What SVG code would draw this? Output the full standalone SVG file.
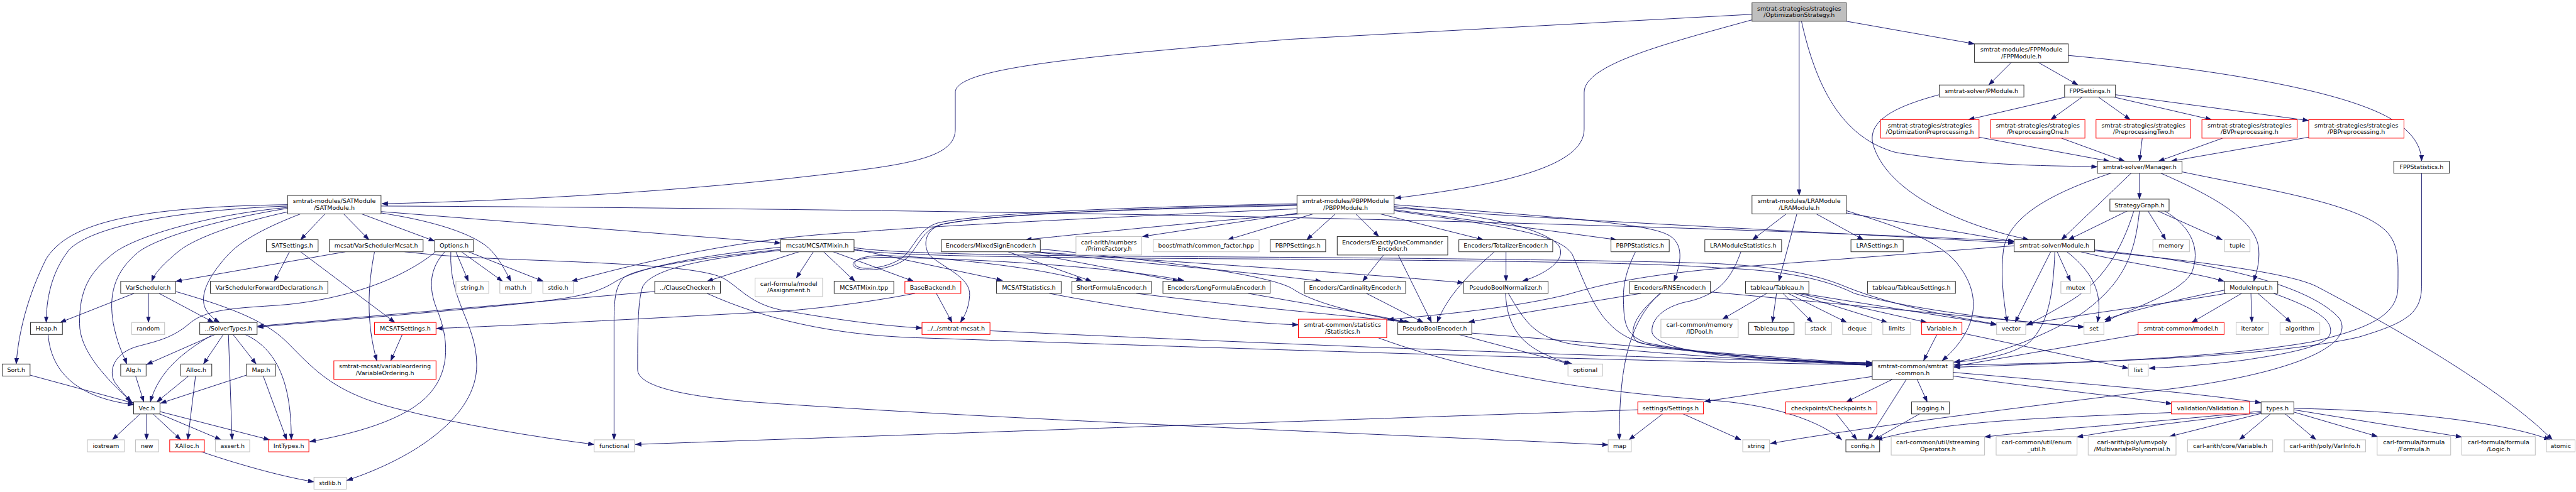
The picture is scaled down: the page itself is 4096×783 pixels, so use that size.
<svg xmlns="http://www.w3.org/2000/svg" width="4096" height="783" viewBox="0 0 4096 783">
<style>
.e path{fill:none;stroke:#191970;stroke-width:1.3;marker-end:url(#ah)}
.n rect{fill:#fff;stroke:#333;stroke-width:1.4}
.n.g rect{stroke:#bfbfbf}
.n.r rect{stroke:#f00}
.n.t rect{fill:#bfbfbf;stroke:#404040}
.n text{font-family:"DejaVu Sans",sans-serif;font-size:13px;text-anchor:middle;fill:#000}
</style>
<defs>
<marker id="ah" viewBox="0 0 14 10" refX="13" refY="5" markerWidth="14" markerHeight="10" markerUnits="userSpaceOnUse" orient="auto"><path d="M0,0 L14,5 L0,10 z" fill="#191970"/></marker>
</defs>
<rect width="4096" height="783" fill="#fff"/>
<g transform="scale(0.73523)">
<g id="edges" class="e">
<path d="M3789,31 L2790,85 C2300,125 2066,150 2066,200 L2066,280 C2066,330 2000,350 1860,368 C1500,415 1100,435 826,441"/>
<path d="M3789,43 C3600,95 3426,140 3426,200 L3426,280 C3426,360 3250,400 3017,429"/>
<path d="M3891,46 L3891,423"/>
<path d="M3896,46 C3930,200 3990,300 4100,330 C4300,362 4450,358 4536,361"/>
<path d="M3993,46 L4270,95"/>
<path d="M4350,135 L4301,184"/>
<path d="M4408,135 L4494,184"/>
<path d="M4473,120 C4800,150 5100,200 5190,270 C5230,300 5237,330 5237,349"/>
<path d="M4468,210 L4257,259"/>
<path d="M4503,210 L4435,259"/>
<path d="M4538,210 L4607,259"/>
<path d="M4571,210 L4783,259"/>
<path d="M4575,205 L4993,261"/>
<path d="M4280,297 L4562,349"/>
<path d="M4458,299 L4595,349"/>
<path d="M4633,299 L4627,349"/>
<path d="M4807,299 L4668,349"/>
<path d="M4993,297 L4695,349"/>
<path d="M4194,205 C4100,230 4040,260 4050,310 C4080,420 4250,490 4388,519"/>
<path d="M4627,374 L4627,431"/>
<path d="M4610,374 L4458,519"/>
<path d="M4568,374 C4430,420 4345,470 4333,540 C4325,600 4335,660 4341,698"/>
<path d="M4671,374 C4800,430 4880,480 4885,540 C4887,570 4880,590 4874,609"/>
<path d="M4719,372 C4900,410 5100,440 5160,500 C5190,530 5186,570 5186,620 C5186,680 5130,710 5000,740 C4800,775 4500,785 4226,795"/>
<path d="M5237,374 L5237,620 C5237,680 5200,700 5100,730 C4900,775 4500,786 4226,790"/>
<path d="M4602,456 L4473,519"/>
<path d="M4645,456 L4684,519"/>
<path d="M4665,456 L4806,519"/>
<path d="M4615,456 C4595,520 4560,600 4480,650 C4430,680 4400,695 4383,704"/>
<path d="M4627,456 C4618,540 4600,610 4500,680 C4400,740 4300,770 4226,784"/>
<path d="M4680,456 C4740,490 4760,540 4740,590 C4710,640 4600,670 4552,697"/>
<path d="M4435,545 L4358,698"/>
<path d="M4444,545 C4440,640 4430,700 4390,740 C4350,770 4280,780 4226,784"/>
<path d="M4449,545 L4478,609"/>
<path d="M4470,545 C4540,600 4545,650 4536,698"/>
<path d="M4356,532 L3720,581 C3500,600 3420,630 3380,640 C3250,670 3100,682 3001,692"/>
<path d="M4500,545 C4600,570 4750,590 4810,609"/>
<path d="M4530,543 C4750,565 4950,590 5010,620 C5200,720 5420,850 5520,952"/>
<path d="M4530,541 C4800,568 5000,620 5060,690 C5100,760 4900,820 4650,847 C4300,890 4000,930 3829,960"/>
<path d="M4848,635 L4740,698"/>
<path d="M4868,635 L4870,698"/>
<path d="M4883,635 L4955,698"/>
<path d="M4917,635 C5000,665 5045,690 5040,720 C5035,750 4950,765 4850,780 C4770,790 4700,795 4648,797"/>
<path d="M4811,628 C4700,650 4600,675 4552,692"/>
<path d="M4815,635 C4700,655 4500,680 4383,702"/>
<path d="M4624,724 L4226,793"/>
<path d="M4189,724 L4160,781"/>
<path d="M4243,721 L4603,797"/>
<path d="M4093,821 L3993,870"/>
<path d="M4123,821 L4040,952"/>
<path d="M4146,821 L4168,870"/>
<path d="M4224,806 C4500,830 4750,850 4890,872"/>
<path d="M4224,814 C4450,845 4620,862 4697,874"/>
<path d="M4049,815 L3686,869"/>
<path d="M3971,895 L4016,952"/>
<path d="M4153,895 L4052,952"/>
<path d="M4696,893 C4400,905 4200,912 4058,952"/>
<path d="M4890,890 C4650,915 4420,930 4292,946"/>
<path d="M4890,893 C4700,915 4580,930 4492,946"/>
<path d="M4890,895 L4692,945"/>
<path d="M4911,895 L4843,952"/>
<path d="M4941,895 L5009,952"/>
<path d="M4961,892 L5142,945"/>
<path d="M4961,887 L5324,946"/>
<path d="M4961,884 C5200,888 5420,915 5515,952"/>
<path d="M3597,895 L3523,952"/>
<path d="M3638,895 L3765,952"/>
<path d="M3542,887 C3000,905 2000,940 1374,962"/>
<path d="M2980,731 C3250,830 3550,855 3720,868 C3850,880 3940,915 3983,952"/>
<path d="M3155,724 L3396,788"/>
<path d="M3183,721 C3600,755 3900,778 4049,788"/>
<path d="M3256,635 C3260,720 3300,760 3400,788"/>
<path d="M3262,635 C3300,700 3320,730 3400,745 C3600,770 3900,784 4049,791"/>
<path d="M3549,635 L3176,697"/>
<path d="M3590,635 C3520,700 3502,800 3502,952"/>
<path d="M3592,635 C3535,680 3520,720 3540,740 C3600,760 3850,780 4049,789"/>
<path d="M3699,632 C3900,650 4200,680 4507,708"/>
<path d="M3537,545 C3515,590 3510,620 3511,650 C3512,700 3515,725 3560,742 C3700,770 3900,782 4049,786"/>
<path d="M3765,545 C3745,600 3720,640 3640,655 C3585,670 3570,700 3573,720 C3580,745 3650,760 3720,769 C3850,780 3950,786 4049,788"/>
<path d="M3842,635 L3833,698"/>
<path d="M3856,635 L3920,698"/>
<path d="M3867,635 L3994,698"/>
<path d="M3880,635 L4082,698"/>
<path d="M3889,635 L4167,698"/>
<path d="M3895,635 L4318,703"/>
<path d="M3821,635 L3725,691"/>
<path d="M3863,463 L3790,519"/>
<path d="M3928,463 L4030,519"/>
<path d="M3886,463 L3847,609"/>
<path d="M3993,461 L4356,523"/>
<path d="M3993,456 C4100,490 4200,520 4240,580 C4290,650 4270,720 4200,781"/>
<path d="M2888,463 L2826,519"/>
<path d="M2932,463 L2982,512"/>
<path d="M2985,463 L3208,519"/>
<path d="M3015,454 L3496,519"/>
<path d="M3015,447 C3200,465 3330,490 3370,530 C3390,560 3350,590 3292,609"/>
<path d="M3015,443 C3300,465 3540,480 3600,505 C3640,520 3640,560 3620,609"/>
<path d="M3015,456 C3250,490 3370,505 3400,550 C3440,640 3460,720 3560,745 C3750,775 3950,785 4049,790"/>
<path d="M3015,450 C3400,478 3900,500 4356,526"/>
<path d="M2812,463 C2600,480 2400,500 2218,519"/>
<path d="M2808,461 L2471,512"/>
<path d="M2840,463 L2655,519"/>
<path d="M2805,452 C2400,470 2000,490 1860,502 C1650,512 1450,550 1236,609"/>
<path d="M2805,443 C2500,450 2150,462 2040,485 C2000,495 1995,530 2010,552 C2040,580 2100,600 2097,640 C2095,670 2085,685 2077,698"/>
<path d="M2805,441 C2500,447 2150,458 2030,482 C1990,493 1980,530 1955,555 C1925,580 1862,588 1850,574 C1842,562 1870,553 1910,553 C2060,558 2250,580 2341,607"/>
<path d="M2805,445 C2500,451 2150,462 2035,486 C1995,497 1987,533 1962,558 C1932,584 1858,592 1846,576 C1838,562 1872,557 1915,557 C2200,562 2450,585 2560,607"/>
<path d="M622,443 C300,448 150,480 100,560 C60,640 40,720 35,788"/>
<path d="M622,446 C380,455 200,490 150,540 C110,590 100,650 100,698"/>
<path d="M622,449 C450,465 300,510 250,545 C190,590 172,630 172,700 C172,760 230,820 285,870"/>
<path d="M622,451 C470,475 340,515 300,545 C245,590 235,640 245,700 C255,750 268,770 274,788"/>
<path d="M630,457 C520,480 420,515 385,545 C355,570 335,590 328,609"/>
<path d="M650,463 C580,490 520,520 490,555 C450,600 430,640 445,670 C455,685 465,692 475,698"/>
<path d="M703,463 L650,519"/>
<path d="M743,463 L798,519"/>
<path d="M782,463 L940,522"/>
<path d="M824,458 L1688,526"/>
<path d="M824,461 C950,480 1030,510 1060,540 C1080,560 1095,590 1105,609"/>
<path d="M824,446 C1400,448 2300,460 2790,471 C3300,482 3900,500 4356,522"/>
<path d="M747,545 L380,609"/>
<path d="M810,545 C795,620 792,700 815,781"/>
<path d="M875,545 C950,553 1000,557 1100,561 C1300,569 1500,575 1560,600 C1600,620 1620,660 1700,673 C1800,690 1900,705 1994,710"/>
<path d="M626,545 L593,609"/>
<path d="M650,545 L854,698"/>
<path d="M870,724 L845,781"/>
<path d="M986,545 L1013,609"/>
<path d="M998,545 L1087,609"/>
<path d="M1013,545 L1175,609"/>
<path d="M942,545 C900,580 800,640 623,659 C530,667 450,665 410,700 C370,735 330,740 290,752 C240,770 235,810 250,830 C265,850 275,860 283,870"/>
<path d="M962,545 C930,580 925,620 945,670 C970,730 975,800 930,851 C880,910 760,940 670,956"/>
<path d="M975,545 C970,650 1031,700 1031,790 C1031,900 900,990 750,1040"/>
<path d="M290,635 L130,698"/>
<path d="M321,635 L321,698"/>
<path d="M344,635 L462,698"/>
<path d="M380,631 C480,660 570,690 620,740 C680,800 720,850 860,885 C1000,920 1150,945 1285,962"/>
<path d="M465,724 L317,789"/>
<path d="M457,726 C400,760 345,800 325,870"/>
<path d="M483,724 L440,788"/>
<path d="M494,724 L502,952"/>
<path d="M504,724 L554,788"/>
<path d="M530,724 C610,760 630,850 630,952"/>
<path d="M104,724 C110,800 160,860 289,876"/>
<path d="M65,812 L290,873"/>
<path d="M293,813 L311,870"/>
<path d="M409,813 L339,870"/>
<path d="M423,813 L406,952"/>
<path d="M533,812 L347,873"/>
<path d="M569,813 L620,952"/>
<path d="M304,895 L243,952"/>
<path d="M317,895 L317,952"/>
<path d="M330,895 L391,952"/>
<path d="M343,895 L478,952"/>
<path d="M346,891 L583,952"/>
<path d="M433,977 C500,1000 600,1030 679,1043"/>
<path d="M1416,631 L557,706"/>
<path d="M1529,635 C1650,690 1800,725 1980,731 C2400,745 3400,780 4049,790"/>
<path d="M1728,545 L1529,609"/>
<path d="M1759,545 L1722,602"/>
<path d="M1781,545 L1849,609"/>
<path d="M1802,545 L1976,609"/>
<path d="M1847,539 L2168,607"/>
<path d="M1688,535 C1500,555 1380,580 1330,610 C1290,635 1250,645 1100,660 C900,680 700,695 557,708"/>
<path d="M1688,540 C1500,560 1380,580 1350,600 C1330,620 1328,650 1328,700 L1328,952"/>
<path d="M1688,542 C1500,562 1410,585 1390,620 C1380,650 1379,700 1379,800 C1379,840 1500,860 1640,871 C2200,910 3000,940 3478,963"/>
<path d="M1847,536 C1950,552 2300,554 2790,557 C3300,561 3600,566 3720,571 C3850,578 3930,595 3990,620 C4100,665 4250,690 4318,702"/>
<path d="M1847,541 C1950,556 2300,558 2790,561 C3300,565 3600,570 3720,580 C3860,585 3950,605 4010,635 C4150,675 4400,700 4507,708"/>
<path d="M2025,635 L2059,698"/>
<path d="M1979,635 C1900,650 1800,665 1700,673 C1300,695 1100,705 944,711"/>
<path d="M2141,716 C2700,742 3500,775 4049,785"/>
<path d="M2180,545 L2361,609"/>
<path d="M2212,545 L2549,609"/>
<path d="M2232,545 C2450,568 2700,588 2858,609"/>
<path d="M2250,539 C2550,568 2760,598 2800,628 C2850,660 2950,680 3040,698"/>
<path d="M2240,545 C2500,565 2900,588 3165,612"/>
<path d="M2457,635 C2700,665 2900,682 3050,698"/>
<path d="M2699,635 L2790,651 C2900,670 2990,685 3040,697"/>
<path d="M2269,635 C2500,680 2700,700 2808,703"/>
<path d="M2992,552 L2947,609"/>
<path d="M3024,552 L3096,698"/>
<path d="M3232,545 C3180,590 3130,640 3108,698"/>
<path d="M3257,545 L3257,609"/>
<path d="M2955,635 L3078,698"/>
</g>
<g id="nodes">
<g id="opt" class="n t"><rect x="3789" y="6" width="204" height="40"/><text x="3891" y="22.5">smtrat-strategies/strategies</text><text x="3891" y="37">/OptimizationStrategy.h</text></g>
<g id="fppmod" class="n"><rect x="4270" y="95" width="203" height="40"/><text x="4371.5" y="111.5">smtrat-modules/FPPModule</text><text x="4371.5" y="126">/FPPModule.h</text></g>
<g id="pmodule" class="n"><rect x="4194" y="184" width="183" height="26"/><text x="4285.5" y="201.5">smtrat-solver/PModule.h</text></g>
<g id="fppset" class="n"><rect x="4465" y="184" width="110" height="26"/><text x="4520" y="201.5">FPPSettings.h</text></g>
<g id="optprep" class="n r"><rect x="4067" y="259" width="213" height="40"/><text x="4173.5" y="275.5">smtrat-strategies/strategies</text><text x="4173.5" y="290">/OptimizationPreprocessing.h</text></g>
<g id="prepone" class="n r"><rect x="4305" y="259" width="204" height="40"/><text x="4407" y="275.5">smtrat-strategies/strategies</text><text x="4407" y="290">/PreprocessingOne.h</text></g>
<g id="preptwo" class="n r"><rect x="4533" y="259" width="205" height="40"/><text x="4635.5" y="275.5">smtrat-strategies/strategies</text><text x="4635.5" y="290">/PreprocessingTwo.h</text></g>
<g id="bvprep" class="n r"><rect x="4762" y="259" width="206" height="40"/><text x="4865" y="275.5">smtrat-strategies/strategies</text><text x="4865" y="290">/BVPreprocessing.h</text></g>
<g id="pbprep" class="n r"><rect x="4993" y="259" width="206" height="40"/><text x="5096" y="275.5">smtrat-strategies/strategies</text><text x="5096" y="290">/PBPreprocessing.h</text></g>
<g id="manager" class="n"><rect x="4536" y="349" width="183" height="26"/><text x="4627.5" y="366.5">smtrat-solver/Manager.h</text></g>
<g id="fppstat" class="n"><rect x="5177" y="349" width="120" height="26"/><text x="5237" y="366.5">FPPStatistics.h</text></g>
<g id="satmod" class="n"><rect x="622" y="423" width="202" height="40"/><text x="723" y="439.5">smtrat-modules/SATModule</text><text x="723" y="454">/SATModule.h</text></g>
<g id="pbppmod" class="n"><rect x="2805" y="423" width="210" height="40"/><text x="2910" y="439.5">smtrat-modules/PBPPModule</text><text x="2910" y="454">/PBPPModule.h</text></g>
<g id="lramod" class="n"><rect x="3789" y="423" width="204" height="40"/><text x="3891" y="439.5">smtrat-modules/LRAModule</text><text x="3891" y="454">/LRAModule.h</text></g>
<g id="strategygraph" class="n"><rect x="4563" y="431" width="128" height="26"/><text x="4627" y="448.5">StrategyGraph.h</text></g>
<g id="satset" class="n"><rect x="576" y="519" width="112" height="26"/><text x="632" y="536.5">SATSettings.h</text></g>
<g id="varschedmcsat" class="n"><rect x="712" y="519" width="203" height="26"/><text x="813.5" y="536.5">mcsat/VarSchedulerMcsat.h</text></g>
<g id="options" class="n"><rect x="940" y="519" width="84" height="26"/><text x="982" y="536.5">Options.h</text></g>
<g id="mcsatmixin" class="n"><rect x="1688" y="519" width="159" height="26"/><text x="1767.5" y="536.5">mcsat/MCSATMixin.h</text></g>
<g id="mixedsign" class="n"><rect x="2036" y="519" width="214" height="26"/><text x="2143" y="536.5">Encoders/MixedSignEncoder.h</text></g>
<g id="primefactory" class="n g"><rect x="2327" y="512" width="142" height="40"/><text x="2398" y="528.5">carl-arith/numbers</text><text x="2398" y="543">/PrimeFactory.h</text></g>
<g id="commonfactor" class="n g"><rect x="2494" y="519" width="229" height="26"/><text x="2608.5" y="536.5">boost/math/common_factor.hpp</text></g>
<g id="pbppset" class="n"><rect x="2747" y="519" width="120" height="26"/><text x="2807" y="536.5">PBPPSettings.h</text></g>
<g id="exactlyone" class="n"><rect x="2892" y="512" width="239" height="40"/><text x="3011.5" y="528.5">Encoders/ExactlyOneCommander</text><text x="3011.5" y="543">Encoder.h</text></g>
<g id="totalizer" class="n"><rect x="3155" y="519" width="203" height="26"/><text x="3256.5" y="536.5">Encoders/TotalizerEncoder.h</text></g>
<g id="pbppstat" class="n"><rect x="3484" y="519" width="126" height="26"/><text x="3547" y="536.5">PBPPStatistics.h</text></g>
<g id="lramodstat" class="n"><rect x="3687" y="519" width="166" height="26"/><text x="3770" y="536.5">LRAModuleStatistics.h</text></g>
<g id="lraset" class="n"><rect x="4003" y="519" width="113" height="26"/><text x="4059.5" y="536.5">LRASettings.h</text></g>
<g id="module" class="n"><rect x="4356" y="519" width="174" height="26"/><text x="4443" y="536.5">smtrat-solver/Module.h</text></g>
<g id="memory" class="n g"><rect x="4656" y="519" width="79" height="26"/><text x="4695.5" y="536.5">memory</text></g>
<g id="tuple" class="n g"><rect x="4811" y="519" width="55" height="26"/><text x="4838.5" y="536.5">tuple</text></g>
<g id="varsched" class="n"><rect x="261" y="609" width="119" height="26"/><text x="320.5" y="626.5">VarScheduler.h</text></g>
<g id="varschedfwd" class="n"><rect x="455" y="609" width="254" height="26"/><text x="582" y="626.5">VarSchedulerForwardDeclarations.h</text></g>
<g id="stringh" class="n g"><rect x="986" y="609" width="71" height="26"/><text x="1021.5" y="626.5">string.h</text></g>
<g id="mathh" class="n g"><rect x="1081" y="609" width="68" height="26"/><text x="1115" y="626.5">math.h</text></g>
<g id="stdioh" class="n g"><rect x="1174" y="609" width="66" height="26"/><text x="1207" y="626.5">stdio.h</text></g>
<g id="clausechecker" class="n"><rect x="1416" y="609" width="142" height="26"/><text x="1487" y="626.5">../ClauseChecker.h</text></g>
<g id="assignment" class="n g"><rect x="1633" y="602" width="146" height="40"/><text x="1706" y="618.5">carl-formula/model</text><text x="1706" y="633">/Assignment.h</text></g>
<g id="mcsatmixintpp" class="n"><rect x="1804" y="609" width="129" height="26"/><text x="1868.5" y="626.5">MCSATMixin.tpp</text></g>
<g id="basebackend" class="n r"><rect x="1957" y="609" width="121" height="26"/><text x="2017.5" y="626.5">BaseBackend.h</text></g>
<g id="mcsatstat" class="n"><rect x="2155" y="609" width="140" height="26"/><text x="2225" y="626.5">MCSATStatistics.h</text></g>
<g id="shortformula" class="n"><rect x="2318" y="609" width="172" height="26"/><text x="2404" y="626.5">ShortFormulaEncoder.h</text></g>
<g id="longformula" class="n"><rect x="2515" y="609" width="232" height="26"/><text x="2631" y="626.5">Encoders/LongFormulaEncoder.h</text></g>
<g id="cardinality" class="n"><rect x="2821" y="609" width="219" height="26"/><text x="2930.5" y="626.5">Encoders/CardinalityEncoder.h</text></g>
<g id="pbnormalizer" class="n"><rect x="3165" y="609" width="183" height="26"/><text x="3256.5" y="626.5">PseudoBoolNormalizer.h</text></g>
<g id="rns" class="n"><rect x="3524" y="609" width="175" height="26"/><text x="3611.5" y="626.5">Encoders/RNSEncoder.h</text></g>
<g id="tableau" class="n"><rect x="3775" y="609" width="137" height="26"/><text x="3843.5" y="626.5">tableau/Tableau.h</text></g>
<g id="tableauset" class="n"><rect x="4039" y="609" width="190" height="26"/><text x="4134" y="626.5">tableau/TableauSettings.h</text></g>
<g id="mutex" class="n g"><rect x="4457" y="609" width="64" height="26"/><text x="4489" y="626.5">mutex</text></g>
<g id="moduleinput" class="n"><rect x="4811" y="609" width="115" height="26"/><text x="4868.5" y="626.5">ModuleInput.h</text></g>
<g id="heap" class="n"><rect x="66" y="698" width="69" height="26"/><text x="100.5" y="715.5">Heap.h</text></g>
<g id="random" class="n g"><rect x="285" y="698" width="71" height="26"/><text x="320.5" y="715.5">random</text></g>
<g id="solvertypes" class="n"><rect x="432" y="698" width="124" height="26"/><text x="494" y="715.5">../SolverTypes.h</text></g>
<g id="mcsatsettings" class="n r"><rect x="810" y="698" width="133" height="26"/><text x="876.5" y="715.5">MCSATSettings.h</text></g>
<g id="smtratmcsat" class="n r"><rect x="1994" y="698" width="147" height="26"/><text x="2067.5" y="715.5">../../smtrat-mcsat.h</text></g>
<g id="statistics" class="n r"><rect x="2808" y="691" width="191" height="40"/><text x="2903.5" y="707.5">smtrat-common/statistics</text><text x="2903.5" y="722">/Statistics.h</text></g>
<g id="pbencoder" class="n"><rect x="3023" y="698" width="160" height="26"/><text x="3103" y="715.5">PseudoBoolEncoder.h</text></g>
<g id="idpool" class="n g"><rect x="3592" y="691" width="167" height="40"/><text x="3675.5" y="707.5">carl-common/memory</text><text x="3675.5" y="722">/IDPool.h</text></g>
<g id="tableautpp" class="n"><rect x="3782" y="698" width="98" height="26"/><text x="3831" y="715.5">Tableau.tpp</text></g>
<g id="stack" class="n g"><rect x="3904" y="698" width="57" height="26"/><text x="3932.5" y="715.5">stack</text></g>
<g id="deque" class="n g"><rect x="3985" y="698" width="63" height="26"/><text x="4016.5" y="715.5">deque</text></g>
<g id="limits" class="n g"><rect x="4072" y="698" width="60" height="26"/><text x="4102" y="715.5">limits</text></g>
<g id="variable" class="n r"><rect x="4156" y="698" width="87" height="26"/><text x="4199.5" y="715.5">Variable.h</text></g>
<g id="vector" class="n g"><rect x="4318" y="698" width="63" height="26"/><text x="4349.5" y="715.5">vector</text></g>
<g id="set" class="n g"><rect x="4507" y="698" width="43" height="26"/><text x="4528.5" y="715.5">set</text></g>
<g id="model" class="n r"><rect x="4624" y="698" width="186" height="26"/><text x="4717" y="715.5">smtrat-common/model.h</text></g>
<g id="iterator" class="n g"><rect x="4836" y="698" width="70" height="26"/><text x="4871" y="715.5">iterator</text></g>
<g id="algorithm" class="n g"><rect x="4931" y="698" width="86" height="26"/><text x="4974" y="715.5">algorithm</text></g>
<g id="sort" class="n"><rect x="5" y="788" width="60" height="26"/><text x="35" y="805.5">Sort.h</text></g>
<g id="alg" class="n"><rect x="261" y="788" width="55" height="26"/><text x="288.5" y="805.5">Alg.h</text></g>
<g id="alloc" class="n"><rect x="391" y="788" width="67" height="26"/><text x="424.5" y="805.5">Alloc.h</text></g>
<g id="maph" class="n"><rect x="533" y="788" width="63" height="26"/><text x="564.5" y="805.5">Map.h</text></g>
<g id="varordering" class="n r"><rect x="722" y="781" width="221" height="40"/><text x="832.5" y="797.5">smtrat-mcsat/variableordering</text><text x="832.5" y="812">/VariableOrdering.h</text></g>
<g id="optional" class="n g"><rect x="3391" y="788" width="75" height="26"/><text x="3428.5" y="805.5">optional</text></g>
<g id="smtratcommon" class="n"><rect x="4049" y="781" width="175" height="40"/><text x="4136.5" y="797.5">smtrat-common/smtrat</text><text x="4136.5" y="812">-common.h</text></g>
<g id="list" class="n g"><rect x="4603" y="788" width="43" height="26"/><text x="4624.5" y="805.5">list</text></g>
<g id="vec" class="n"><rect x="289" y="870" width="57" height="26"/><text x="317.5" y="887.5">Vec.h</text></g>
<g id="settings" class="n r"><rect x="3542" y="870" width="142" height="26"/><text x="3613" y="887.5">settings/Settings.h</text></g>
<g id="checkpoints" class="n r"><rect x="3862" y="870" width="197" height="26"/><text x="3960.5" y="887.5">checkpoints/Checkpoints.h</text></g>
<g id="logging" class="n"><rect x="4134" y="870" width="82" height="26"/><text x="4175" y="887.5">logging.h</text></g>
<g id="validation" class="n r"><rect x="4696" y="870" width="169" height="26"/><text x="4780.5" y="887.5">validation/Validation.h</text></g>
<g id="types" class="n"><rect x="4890" y="870" width="71" height="26"/><text x="4925.5" y="887.5">types.h</text></g>
<g id="iostream" class="n g"><rect x="189" y="952" width="80" height="26"/><text x="229" y="969.5">iostream</text></g>
<g id="new" class="n g"><rect x="293" y="952" width="50" height="26"/><text x="318" y="969.5">new</text></g>
<g id="xalloc" class="n r"><rect x="367" y="952" width="75" height="26"/><text x="404.5" y="969.5">XAlloc.h</text></g>
<g id="asserth" class="n g"><rect x="466" y="952" width="74" height="26"/><text x="503" y="969.5">assert.h</text></g>
<g id="inttypes" class="n r"><rect x="581" y="952" width="87" height="26"/><text x="624.5" y="969.5">IntTypes.h</text></g>
<g id="functional" class="n g"><rect x="1285" y="952" width="87" height="26"/><text x="1328.5" y="969.5">functional</text></g>
<g id="map" class="n g"><rect x="3478" y="952" width="50" height="26"/><text x="3503" y="969.5">map</text></g>
<g id="string" class="n g"><rect x="3769" y="952" width="58" height="26"/><text x="3798" y="969.5">string</text></g>
<g id="config" class="n"><rect x="3992" y="952" width="73" height="26"/><text x="4028.5" y="969.5">config.h</text></g>
<g id="streaming" class="n g"><rect x="4090" y="945" width="202" height="40"/><text x="4191" y="961.5">carl-common/util/streaming</text><text x="4191" y="976">Operators.h</text></g>
<g id="enumutil" class="n g"><rect x="4317" y="945" width="175" height="40"/><text x="4404.5" y="961.5">carl-common/util/enum</text><text x="4404.5" y="976">_util.h</text></g>
<g id="multipoly" class="n g"><rect x="4516" y="945" width="190" height="40"/><text x="4611" y="961.5">carl-arith/poly/umvpoly</text><text x="4611" y="976">/MultivariatePolynomial.h</text></g>
<g id="carlvar" class="n g"><rect x="4731" y="952" width="184" height="26"/><text x="4823" y="969.5">carl-arith/core/Variable.h</text></g>
<g id="varinfo" class="n g"><rect x="4940" y="952" width="176" height="26"/><text x="5028" y="969.5">carl-arith/poly/VarInfo.h</text></g>
<g id="formula" class="n g"><rect x="5141" y="945" width="159" height="40"/><text x="5220.5" y="961.5">carl-formula/formula</text><text x="5220.5" y="976">/Formula.h</text></g>
<g id="logic" class="n g"><rect x="5324" y="945" width="159" height="40"/><text x="5403.5" y="961.5">carl-formula/formula</text><text x="5403.5" y="976">/Logic.h</text></g>
<g id="atomic" class="n g"><rect x="5507" y="952" width="62" height="26"/><text x="5538" y="969.5">atomic</text></g>
<g id="stdlib" class="n g"><rect x="679" y="1033" width="70" height="26"/><text x="714" y="1050.5">stdlib.h</text></g>
</g>
</g>
</svg>
